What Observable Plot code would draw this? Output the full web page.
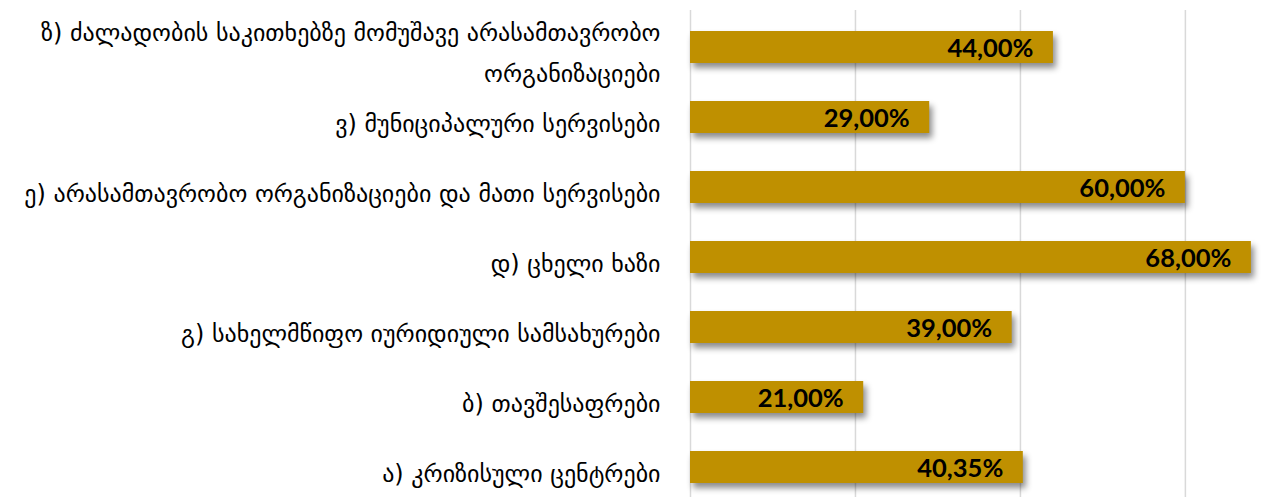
<!DOCTYPE html>
<html>
<head>
<meta charset="utf-8">
<script src="https://cdn.jsdelivr.net/npm/d3@7"></script>
<script src="https://cdn.jsdelivr.net/npm/@observablehq/plot@0.6"></script>
<style>
  html, body { margin: 0; padding: 0; background: #fff; }
  #chart svg { display: block; }
  .bars rect { filter: drop-shadow(3px 5px 3px rgba(0,0,0,0.45)); }
</style>
</head>
<body>
<div id="chart"></div>
<script>
const categories = [
  "ზ) ძალადობის საკითხებზე მომუშავე არასამთავრობო\nორგანიზაციები",
  "ვ) მუნიციპალური სერვისები",
  "ე) არასამთავრობო ორგანიზაციები და მათი სერვისები",
  "დ) ცხელი ხაზი",
  "გ) სახელმწიფო იურიდიული სამსახურები",
  "ბ) თავშესაფრები",
  "ა) კრიზისული ცენტრები"
];
const values = [44, 29, 60, 68, 39, 21, 40.35];
const gridTicks = [0, 20, 40, 60];

const data = categories.map((c, i) => ({category: c, value: values[i]}));
const fmt = v => d3.format(".2f")(v).replace(".", ",") + "%";

const chart = Plot.plot({
  width: 1288,
  height: 497,
  marginLeft: 690,
  marginRight: 0,
  marginTop: 10,
  marginBottom: 0,
  style: {background: "#fff"},
  x: {domain: [0, 72.5], axis: null},
  y: {domain: categories, range: [10, 503.5], paddingInner: 0.54, paddingOuter: 0.27, axis: null},
  marks: [
    Plot.ruleX(gridTicks, {stroke: "#d9d9d9", strokeWidth: 1.5}),
    Plot.barX(data, {y: "category", x: "value", fill: "#BF9000", className: "bars"}),
    Plot.text(data, {
      y: "category", x: "value", text: d => fmt(d.value),
      textAnchor: "end", dx: -20, dy: 1,
      fontSize: 25.5, fontWeight: "bold", fontFamily: "Lato, 'Open Sans', sans-serif", fill: "#000"
    }),
    Plot.text(data, {
      y: "category", x: () => 0, text: "category",
      textAnchor: "end", dx: -30, dy: 1, lineHeight: 1.7,
      fontSize: 24, fontFamily: "'DejaVu Sans', sans-serif", fill: "#000"
    })
  ]
});
document.getElementById("chart").appendChild(chart);
</script>
</body>
</html>
